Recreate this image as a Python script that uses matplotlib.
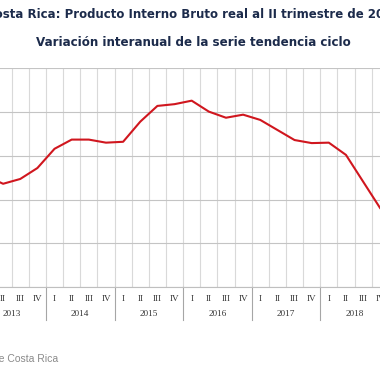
import matplotlib
matplotlib.use("Agg")
import matplotlib.pyplot as plt
from matplotlib.transforms import blended_transform_factory

years = ["2013", "2014", "2015", "2016", "2017", "2018", "2019"]
quarters = ["I", "II", "III", "IV"]
# Variación interanual (%) de la serie tendencia ciclo, 2013-I a 2019-II
values = [2.54, 2.36, 2.47, 2.72,
          3.16, 3.37, 3.37, 3.30,
          3.32, 3.78, 4.14, 4.18,
          4.26, 4.01, 3.87, 3.94,
          3.82, 3.59, 3.36, 3.29,
          3.30, 3.02, 2.41, 1.80,
          1.45, 1.30]
y_ticks = [0, 1, 2, 3, 4, 5]

title1 = "Costa Rica: Producto Interno Bruto real al II trimestre de 2019"
title2 = "Variación interanual de la serie tendencia ciclo"
source = "Fuente: Banco Central de Costa Rica"

W, H = 380, 380
fig = plt.figure(figsize=(W / 100, H / 100), dpi=100)
fig.patch.set_facecolor("white")

left_px, right_px = -22.6, 423.1
top_px, bottom_px = 68.3, 287.0
ax = fig.add_axes([left_px / W, 1 - bottom_px / H,
                   (right_px - left_px) / W, (bottom_px - top_px) / H])

n = len(values)
labels = [quarters[i % 4] for i in range(n)]
xs = list(range(n))
ax.plot(xs, values, color="#d0161e", lw=1.5, solid_joinstyle="round", zorder=3)

ax.set_xlim(-0.5, n - 0.5)
ax.set_ylim(y_ticks[0], y_ticks[-1])
ax.set_yticks(y_ticks)
ax.yaxis.grid(True, color="#c4c4c4", lw=0.8)
ax.set_xticks([i + 0.5 for i in range(-1, n)], minor=True)
ax.xaxis.grid(True, which="minor", color="#d9d9d9", lw=0.8)
ax.set_xticks(xs)
ax.set_xticklabels(labels, fontfamily="Liberation Serif", fontsize=6.6, color="#333333")
ax.tick_params(axis="x", which="both", length=0, pad=5.5)
ax.tick_params(axis="y", length=0, labelleft=False)
for s in ["top", "right", "left"]:
    ax.spines[s].set_visible(False)
ax.spines["bottom"].set_color("#bfbfbf")
ax.spines["bottom"].set_linewidth(0.8)
ax.set_axisbelow(True)

trans = blended_transform_factory(ax.transData, ax.transAxes)
ax_h = bottom_px - top_px
sep_bottom = -(320 - bottom_px) / ax_h
year_y = -(314.5 - bottom_px) / ax_h
for k, yr in enumerate(years):
    start = 4 * k - 0.5
    end = min(4 * k + 3.5, n - 0.5)
    ax.text((start + end) / 2, year_y, yr, transform=trans, ha="center", va="center",
            fontfamily="Liberation Serif", fontsize=6.6, color="#333333")
    ax.plot([start, start], [0, sep_bottom], transform=trans, color="#a6a6a6",
            lw=0.8, clip_on=False)
ax.plot([n - 0.5, n - 0.5], [0, sep_bottom], transform=trans, color="#a6a6a6",
        lw=0.8, clip_on=False)

cx = 193.5 / W
fig.text(cx, 1 - 15 / H, title1, ha="center", va="center", fontsize=8.45,
         fontweight="bold", color="#1c2b4b", fontfamily="DejaVu Sans")
fig.text(cx, 1 - 43 / H, title2, ha="center", va="center", fontsize=8.6,
         fontweight="bold", color="#1c2b4b", fontfamily="DejaVu Sans")
fig.text(58 / W, 1 - 358.5 / H, source, ha="right", va="center", fontsize=7.5,
         color="#8a8a8a", fontfamily="Liberation Sans")

fig.savefig("out.png", dpi=100)
